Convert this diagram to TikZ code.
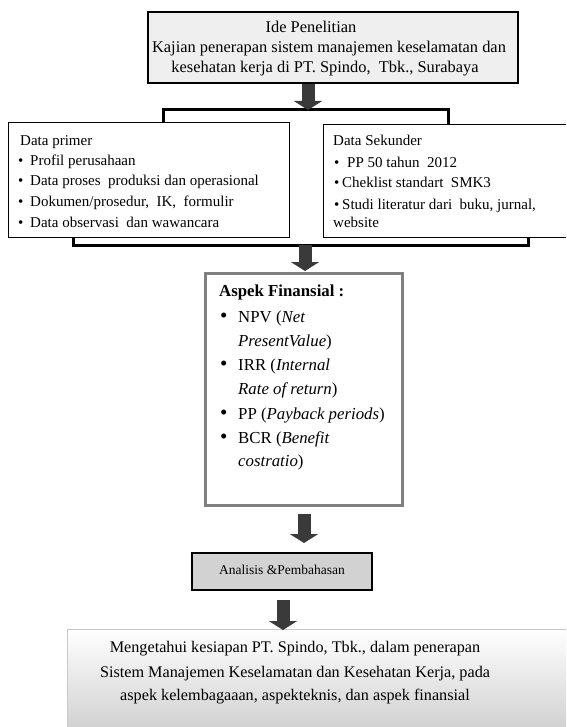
\documentclass[tikz,border=0pt]{standalone}
\usepackage{fontspec}
\setmainfont{Liberation Serif}
\usetikzlibrary{arrows.meta}
\definecolor{arrowgray}{HTML}{3A3A3A}
\definecolor{topfill}{HTML}{EFEFEF}
\definecolor{anfill}{HTML}{D2D2D2}
\definecolor{aspekborder}{HTML}{808080}
\definecolor{finalborder}{HTML}{C8C8C8}
\tikzset{
  box/.style={draw=black, line width=1pt, fill=white, inner sep=0pt},
  txt/.style={anchor=mid west, inner sep=0pt, font=\fontsize{15}{18}\selectfont},
  ctxt/.style={anchor=mid, inner sep=0pt},
  atxt/.style={anchor=mid west, inner sep=0pt, font=\fontsize{16.8}{20}\selectfont},
  abul/.style={anchor=mid west, inner sep=0pt, font=\fontsize{21}{20}\selectfont},
  blockarrow/.style={draw=arrowgray, line width=13pt, -{Triangle[width=28pt,length=9pt]}},
  bracket/.style={draw=black, line width=3pt, line join=miter},
}
\begin{document}
\begin{tikzpicture}[x=1pt,y=-1pt]
\useasboundingbox (0,0) rectangle (566,727);
\clip (0,0) rectangle (566,727);

% top box
\draw[box, fill=topfill, line width=1.6pt] (148,12) rectangle (518,83);
\coordinate (topS) at (308,84);
\node[ctxt, font=\fontsize{16.4}{20}\selectfont] (t1) at (311,30) {Ide Penelitian};
\node[ctxt, font=\fontsize{16.4}{20}\selectfont] (t2) at (329,50) {Kajian penerapan sistem manajemen keselamatan dan};
\node[ctxt, font=\fontsize{16.4}{20}\selectfont] (t3) at (325,70) {kesehatan kerja di PT. Spindo,\ \ Tbk., Surabaya};

% bracket 1
\coordinate (b1) at (308,110);
\draw[bracket] (163,124) -- (163,110) -- (448,110) -- (448,126);
\draw[blockarrow] (topS) -- (b1);

% left box
\draw[box] (8,123) rectangle (289,237);
\node[txt] (l0) at (20,143) {Data primer};
\node[txt] (lb1) at (18,163) {•}; \node[txt] (l1) at (30,163) {Profil perusahaan};
\node[txt] (lb2) at (18,183) {•}; \node[txt] (l2) at (30,183) {Data proses\ \ produksi dan operasional};
\node[txt] (lb3) at (18,204) {•}; \node[txt] (l3) at (30,204) {Dokumen/prosedur,\ \ IK,\ \ formulir};
\node[txt] (lb4) at (18,225) {•}; \node[txt] (l4) at (30,225) {Data observasi\ \ dan wawancara};

% right box
\draw[box] (323,125) rectangle (580,237);
\node[txt] (r0) at (333,143) {Data Sekunder};
\node[txt] (rb1) at (334,165) {•}; \node[txt] (r1) at (347,165) {PP 50 tahun\ \ 2012};
\node[txt] (rb2) at (334,185) {•}; \node[txt] (r2) at (342,185) {Cheklist standart\ \ SMK3};
\node[txt] (rb3) at (334,207) {•}; \node[txt] (r3) at (342,207) {Studi literatur dari\ \ buku, jurnal,};
\node[txt] (r4) at (333,225) {website};

% bracket 2
\coordinate (b2) at (305,245);
\draw[bracket] (73,237) -- (73,245) -- (528,245) -- (528,237);

% aspek box
\draw[box, draw=aspekborder, line width=3pt] (205,273) rectangle (402,505);
\coordinate (aspN) at (305,271);
\draw[blockarrow] (b2) -- (aspN);
\node[atxt, font=\bfseries\fontsize{16.8}{20}\selectfont] (a0) at (219,294) {Aspek Finansial :};
\node[abul] (ab1) at (220,320) {•}; \node[atxt] (a1) at (238,320) {NPV (\textit{Net}};
\node[atxt] (a2) at (238,344) {\textit{PresentValue})};
\node[abul] (ab3) at (220,368) {•}; \node[atxt] (a3) at (238,368) {IRR (\textit{Internal}};
\node[atxt] (a4) at (238,392) {\textit{Rate of return})};
\node[abul] (ab5) at (220,417) {•}; \node[atxt] (a5) at (238,417) {PP (\textit{Payback periods})};
\node[abul] (ab6) at (220,441) {•}; \node[atxt] (a6) at (238,441) {BCR (\textit{Benefit}};
\node[atxt] (a7) at (238,464) {\textit{costratio})};

% analisis box
\coordinate (aspS) at (304,514);
\draw[box, fill=anfill, line width=1.5pt] (192,553) rectangle (372,590);
\coordinate (anN) at (304,543);
\draw[blockarrow] (aspS) -- (anN);
\node[ctxt, font=\fontsize{13.5}{16}\selectfont] (an) at (282,572) {Analisis \&Pembahasan};

% final box
\coordinate (anS) at (283,600);
\coordinate (fiN) at (283,630);
\shade[top color=white, bottom color=black!20] (67,629) rectangle (580,740);
\draw[draw=finalborder, line width=1pt] (67,629) rectangle (580,740);
\draw[blockarrow] (anS) -- (fiN);
\node[ctxt, font=\fontsize{16.2}{24}\selectfont] (f1) at (295,650) {Mengetahui kesiapan PT. Spindo, Tbk., dalam penerapan};
\node[ctxt, font=\fontsize{16.2}{24}\selectfont] (f2) at (295,675) {Sistem Manajemen Keselamatan dan Kesehatan Kerja, pada};
\node[ctxt, font=\fontsize{16.2}{24}\selectfont] (f3) at (295,698) {aspek kelembagaaan, aspekteknis, dan aspek finansial};
\end{tikzpicture}
\end{document}
